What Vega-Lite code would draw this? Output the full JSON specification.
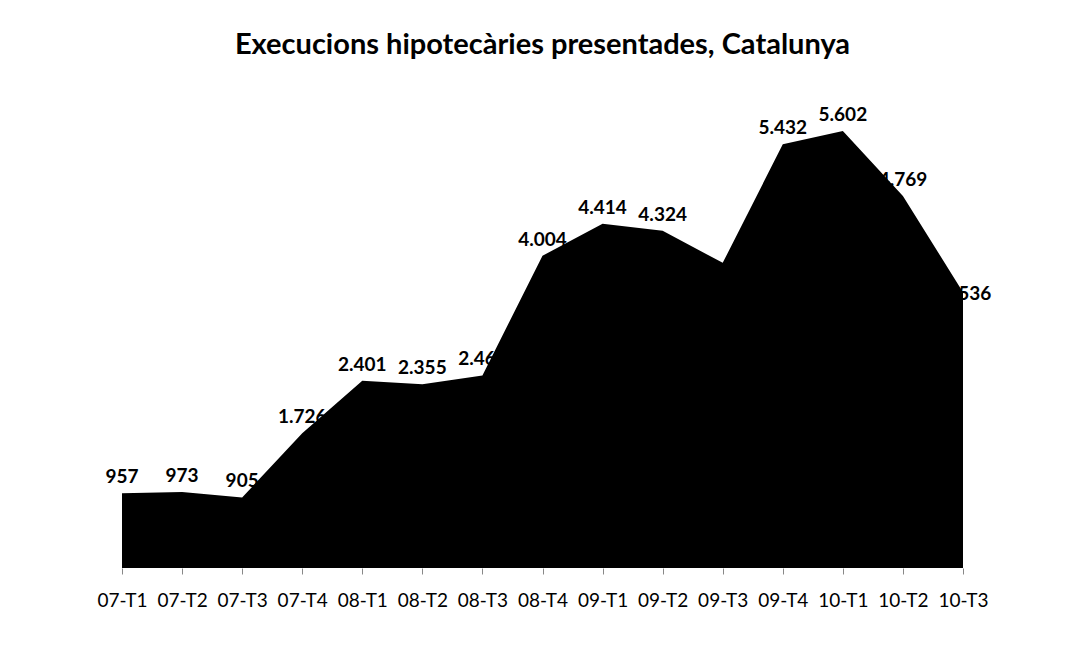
{
  "$schema": "https://vega.github.io/schema/vega-lite/v6.json",
  "width": 841,
  "height": 468,
  "autosize": {"type": "none"},
  "padding": {"left": 122, "top": 100, "right": 104, "bottom": 98},
  "background": "white",
  "title": {
    "text": "Execucions hipotecàries presentades, Catalunya",
    "font": "Lato",
    "fontSize": 29,
    "fontWeight": "bold",
    "color": "black",
    "anchor": "middle",
    "offset": 40
  },
  "config": {"view": {"stroke": null}},
  "data": {
    "values": [
      {"t": "07-T1", "v": 957, "label": "957", "edge": false},
      {"t": "07-T2", "v": 973, "label": "973", "edge": false},
      {"t": "07-T3", "v": 905, "label": "905", "edge": false},
      {"t": "07-T4", "v": 1726, "label": "1.726", "edge": false},
      {"t": "08-T1", "v": 2401, "label": "2.401", "edge": false},
      {"t": "08-T2", "v": 2355, "label": "2.355", "edge": false},
      {"t": "08-T3", "v": 2468, "label": "2.468", "edge": false},
      {"t": "08-T4", "v": 4004, "label": "4.004", "edge": false},
      {"t": "09-T1", "v": 4414, "label": "4.414", "edge": false},
      {"t": "09-T2", "v": 4324, "label": "4.324", "edge": false},
      {"t": "09-T3", "v": 3912, "label": "", "edge": false},
      {"t": "09-T4", "v": 5432, "label": "5.432", "edge": false},
      {"t": "10-T1", "v": 5602, "label": "5.602", "edge": false},
      {"t": "10-T2", "v": 4769, "label": "4.769", "edge": false},
      {"t": "10-T3", "v": 3536, "label": "3.536", "edge": true}
    ]
  },
  "encoding": {
    "x": {
      "field": "t",
      "type": "ordinal",
      "sort": null,
      "scale": {"type": "point", "padding": 0},
      "axis": {
        "title": null,
        "labelAngle": 0,
        "labelFont": "Lato",
        "labelFontSize": 19,
        "labelColor": "black",
        "labelPadding": 17,
        "domain": false,
        "ticks": true,
        "tickColor": "#888888",
        "tickSize": 6,
        "grid": false
      }
    },
    "y": {
      "field": "v",
      "type": "quantitative",
      "scale": {"domain": [0, 6000], "nice": false},
      "axis": null
    }
  },
  "layer": [
    {
      "transform": [{"filter": "!datum.edge"}],
      "mark": {
        "type": "text",
        "font": "Lato",
        "fontSize": 19,
        "fontWeight": "bold",
        "color": "black",
        "baseline": "bottom",
        "dy": -6
      },
      "encoding": {"text": {"field": "label"}}
    },
    {
      "transform": [{"filter": "datum.edge"}],
      "mark": {
        "type": "text",
        "font": "Lato",
        "fontSize": 19,
        "fontWeight": "bold",
        "color": "black",
        "baseline": "middle",
        "dx": 4,
        "dy": 2
      },
      "encoding": {"text": {"field": "label"}}
    },
    {
      "mark": {"type": "area", "color": "black", "opacity": 1, "interpolate": "linear"},
      "encoding": {}
    }
  ]
}
